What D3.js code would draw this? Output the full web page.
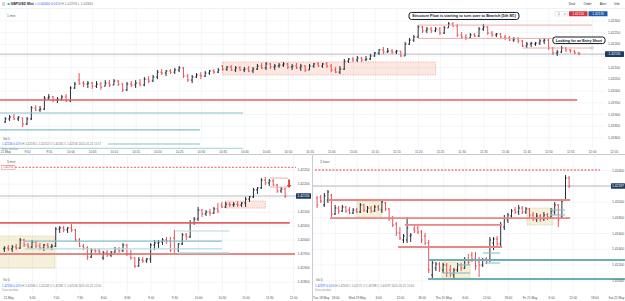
<!DOCTYPE html>
<html><head><meta charset="utf-8">
<script src="https://cdn.jsdelivr.net/npm/d3@7/dist/d3.min.js"></script>
<style>
html,body{margin:0;padding:0;background:#fff;}
svg{display:block;font-family:"Liberation Sans",Arial,sans-serif;}
</style></head><body>
<svg id="chart" width="625" height="301"></svg>
<script>
// ================= DATA =================
// --- Top pane: GBP/USD 1-minute bars, 21 May 2021, first bar 09:45 (minutes after midnight)
const topFirstMinute = 585;
const topOpen = [1.41866,1.41879,1.41887,1.41879,1.41883,1.41857,1.41879,1.41926,1.41917,1.41921,
1.41968,1.41973,1.41960,1.41964,1.41973,1.41956,1.42011,1.42045,1.42032,1.42028,
1.42032,1.42019,1.42028,1.42019,1.42032,1.42024,1.42041,1.42028,1.42003,1.42028,
1.42024,1.42032,1.42024,1.42049,1.42041,1.42058,1.42079,1.42075,1.42084,1.42079,
1.42088,1.42097,1.42062,1.42045,1.42058,1.42067,1.42062,1.42075,1.42084,1.42079,
1.42105,1.42092,1.42101,1.42088,1.42097,1.42088,1.42092,1.42084,1.42092,1.42105,
1.42097,1.42114,1.42101,1.42105,1.42109,1.42114,1.42101,1.42105,1.42097,1.42105,
1.42088,1.42105,1.42114,1.42105,1.42114,1.42105,1.42088,1.42079,1.42092,1.42126,
1.42135,1.42131,1.42139,1.42131,1.42135,1.42148,1.42161,1.42174,1.42165,1.42169,
1.42165,1.42169,1.42148,1.42199,1.42216,1.42229,1.42272,1.42255,1.42263,1.42255,
1.42263,1.42246,1.42268,1.42285,1.42276,1.42238,1.42229,1.42225,1.42238,1.42233,
1.42263,1.42272,1.42246,1.42238,1.42242,1.42229,1.42225,1.42216,1.42221,1.42212,
1.42191,1.42199,1.42199,1.42203,1.42212,1.42216,1.42182,1.42161,1.42165,1.42182,
1.42174,1.42169,1.42161];
const topHigh = [1.41887,1.41896,1.41900,1.41891,1.41883,1.41887,1.41934,1.41938,1.41934,1.41977,
1.41985,1.41977,1.41973,1.41981,1.41985,1.42019,1.42037,1.42075,1.42041,1.42041,
1.42037,1.42041,1.42037,1.42045,1.42045,1.42049,1.42045,1.42032,1.42037,1.42041,
1.42045,1.42049,1.42058,1.42062,1.42067,1.42088,1.42092,1.42088,1.42092,1.42097,
1.42105,1.42101,1.42071,1.42067,1.42075,1.42079,1.42084,1.42088,1.42092,1.42097,
1.42109,1.42105,1.42109,1.42105,1.42105,1.42101,1.42105,1.42101,1.42114,1.42118,
1.42122,1.42118,1.42114,1.42118,1.42122,1.42118,1.42114,1.42118,1.42114,1.42109,
1.42114,1.42118,1.42122,1.42118,1.42122,1.42114,1.42101,1.42105,1.42135,1.42139,
1.42144,1.42148,1.42144,1.42148,1.42156,1.42165,1.42178,1.42186,1.42182,1.42178,
1.42174,1.42169,1.42208,1.42225,1.42238,1.42280,1.42276,1.42272,1.42272,1.42272,
1.42272,1.42276,1.42293,1.42293,1.42285,1.42250,1.42242,1.42246,1.42246,1.42272,
1.42285,1.42276,1.42255,1.42246,1.42246,1.42238,1.42233,1.42229,1.42229,1.42216,
1.42208,1.42208,1.42208,1.42221,1.42225,1.42221,1.42186,1.42174,1.42191,1.42186,
1.42178,1.42174,1.42165];
const topLow = [1.41862,1.41870,1.41874,1.41870,1.41844,1.41853,1.41874,1.41913,1.41909,1.41917,
1.41960,1.41951,1.41947,1.41956,1.41951,1.41951,1.42007,1.42024,1.42015,1.42011,
1.42007,1.42011,1.42003,1.42019,1.42015,1.42024,1.42019,1.41994,1.41998,1.42015,
1.42011,1.42019,1.42019,1.42032,1.42037,1.42049,1.42067,1.42062,1.42071,1.42071,
1.42079,1.42054,1.42037,1.42032,1.42054,1.42049,1.42058,1.42067,1.42071,1.42075,
1.42084,1.42084,1.42084,1.42079,1.42084,1.42079,1.42079,1.42075,1.42088,1.42092,
1.42088,1.42092,1.42088,1.42097,1.42101,1.42092,1.42088,1.42092,1.42084,1.42079,
1.42088,1.42097,1.42101,1.42097,1.42097,1.42079,1.42075,1.42071,1.42088,1.42118,
1.42122,1.42122,1.42122,1.42126,1.42131,1.42144,1.42152,1.42156,1.42161,1.42156,
1.42156,1.42144,1.42148,1.42195,1.42208,1.42225,1.42246,1.42246,1.42246,1.42250,
1.42238,1.42242,1.42268,1.42272,1.42229,1.42221,1.42216,1.42225,1.42229,1.42229,
1.42255,1.42238,1.42229,1.42229,1.42225,1.42216,1.42212,1.42208,1.42203,1.42186,
1.42182,1.42186,1.42191,1.42195,1.42199,1.42174,1.42152,1.42148,1.42161,1.42165,
1.42161,1.42156,1.42152];
const topClose = [1.41879,1.41887,1.41879,1.41887,1.41857,1.41879,1.41926,1.41917,1.41921,1.41968,
1.41973,1.41960,1.41964,1.41973,1.41956,1.42011,1.42028,1.42032,1.42028,1.42032,
1.42019,1.42028,1.42015,1.42032,1.42024,1.42041,1.42028,1.42003,1.42028,1.42024,
1.42032,1.42024,1.42049,1.42041,1.42058,1.42079,1.42075,1.42084,1.42079,1.42088,
1.42097,1.42062,1.42045,1.42058,1.42067,1.42062,1.42075,1.42084,1.42079,1.42088,
1.42092,1.42101,1.42088,1.42097,1.42088,1.42092,1.42084,1.42092,1.42105,1.42097,
1.42114,1.42101,1.42105,1.42109,1.42114,1.42101,1.42105,1.42097,1.42105,1.42088,
1.42105,1.42114,1.42105,1.42114,1.42105,1.42088,1.42079,1.42092,1.42126,1.42135,
1.42131,1.42139,1.42131,1.42135,1.42148,1.42161,1.42174,1.42165,1.42169,1.42165,
1.42169,1.42148,1.42199,1.42216,1.42229,1.42272,1.42255,1.42263,1.42255,1.42263,
1.42246,1.42268,1.42285,1.42276,1.42238,1.42229,1.42225,1.42238,1.42233,1.42263,
1.42272,1.42246,1.42238,1.42242,1.42229,1.42225,1.42216,1.42221,1.42212,1.42191,
1.42199,1.42203,1.42203,1.42212,1.42216,1.42182,1.42161,1.42165,1.42182,1.42174,
1.42169,1.42161,1.42156];
const topPriceTicks = [1.4180,1.4185,1.4190,1.4195,1.4200,1.4205,1.4210,1.4215,1.4220,1.4225,1.4230];
const topPriceLabels = ["1.41800","1.41850","1.41900","1.41950","1.42000","1.42050","1.42100","1.42150","1.42200","1.42250","1.42300"];
const topTimeTicks = [585,590,595,600,605,610,615,620,625,630,635,640,645,650,655,660,665,670,675,680,685,690,695,700,705,710,715,720,725];
const topTimeLabels = ["21 May","9:50","9:55","10:00","10:05","10:10","10:15","10:20","10:25","10:30","10:35","10:40","10:45","10:50","10:55","11:00","11:05","11:10","11:15","11:20","11:25","11:30","11:35","11:40","11:45","11:50","11:55","12:00","12:05"];
const topZones = [{from:635,to:684,hi:1.42122,lo:1.42067,kind:"pink"}];
const topLevels = [
  {price:1.42280,from:680,to:720,kind:"lightred"},
  {price:1.42223,from:680,to:712,kind:"lightred"},
  {price:1.42182,from:704,to:720,kind:"lightred",endDot:true},
  {price:1.41960,from:583,to:716.6,kind:"red"},
  {price:1.41904,from:583,to:639.7,kind:"teal"},
  {price:1.41832,from:583,to:629.8,kind:"teal"},
  {price:1.41772,from:608.6,to:629.8,kind:"teal"},
  {price:1.41753,from:583,to:639.7,kind:"paleteal"}];
const topNotes = [
  {text:"Structure Flow is starting to turn over to Bearish (5th M1)",from:677.9,to:703.2,hi:1.42334,lo:1.42304},
  {text:"Looking for an Entry Short",from:711,to:723,hi:1.42229,lo:1.42201}];

// --- Bottom-left pane: 5-minute bars, first bar 05:55
const blFirstMinute = 355;
const blOpen = [1.41967,1.41970,1.41967,1.41974,1.41970,1.41999,1.41981,1.41974,1.41992,1.41977,
1.41970,1.41981,1.41974,1.41977,1.42038,1.42042,1.42035,1.42042,1.42035,1.41999,
1.41977,1.41970,1.41938,1.41963,1.41960,1.41935,1.41953,1.41945,1.41956,1.41967,
1.41960,1.41981,1.41949,1.41935,1.41906,1.41928,1.41924,1.41931,1.41981,1.41988,
1.41992,1.41999,1.41995,1.42006,1.41967,1.41985,1.42017,1.42010,1.42060,1.42074,
1.42106,1.42092,1.42099,1.42095,1.42110,1.42124,1.42117,1.42127,1.42124,1.42127,
1.42124,1.42131,1.42145,1.42153,1.42178,1.42185,1.42213,1.42203,1.42210,1.42195,
1.42174,1.42181];
const blHigh = [1.41977,1.41981,1.41981,1.41985,1.42006,1.42003,1.41988,1.41999,1.41995,1.41988,
1.41985,1.41988,1.41985,1.42045,1.42049,1.42049,1.42045,1.42056,1.42038,1.42006,
1.41985,1.41977,1.41970,1.41970,1.41970,1.41960,1.41963,1.41960,1.41974,1.41974,
1.41988,1.41985,1.41963,1.41938,1.41938,1.41938,1.41935,1.41988,1.41999,1.41999,
1.42006,1.42010,1.42010,1.42035,1.41988,1.42024,1.42024,1.42070,1.42081,1.42117,
1.42110,1.42106,1.42110,1.42117,1.42131,1.42135,1.42135,1.42135,1.42135,1.42138,
1.42135,1.42153,1.42156,1.42185,1.42188,1.42220,1.42224,1.42217,1.42217,1.42199,
1.42188,1.42185];
const blLow = [1.41956,1.41960,1.41956,1.41963,1.41967,1.41974,1.41967,1.41967,1.41970,1.41963,
1.41960,1.41967,1.41963,1.41974,1.42024,1.42027,1.42024,1.42027,1.41992,1.41974,
1.41963,1.41928,1.41935,1.41953,1.41949,1.41928,1.41938,1.41938,1.41953,1.41953,
1.41956,1.41942,1.41928,1.41899,1.41903,1.41917,1.41917,1.41917,1.41963,1.41970,
1.41981,1.41985,1.41956,1.41953,1.41956,1.41981,1.41999,1.42006,1.42053,1.42067,
1.42081,1.42085,1.42085,1.42092,1.42095,1.42113,1.42113,1.42117,1.42117,1.42117,
1.42117,1.42117,1.42135,1.42149,1.42163,1.42181,1.42195,1.42192,1.42192,1.42167,
1.42167,1.42149];
const blClose = [1.41970,1.41967,1.41974,1.41970,1.41999,1.41981,1.41974,1.41992,1.41977,1.41970,
1.41981,1.41974,1.41977,1.42038,1.42042,1.42035,1.42042,1.42035,1.41999,1.41977,
1.41970,1.41938,1.41963,1.41960,1.41956,1.41953,1.41945,1.41956,1.41967,1.41960,
1.41981,1.41949,1.41935,1.41906,1.41928,1.41924,1.41931,1.41981,1.41988,1.41992,
1.41999,1.41995,1.41963,1.41967,1.41985,1.42017,1.42010,1.42060,1.42074,1.42106,
1.42092,1.42099,1.42095,1.42110,1.42102,1.42117,1.42127,1.42124,1.42127,1.42124,
1.42131,1.42145,1.42153,1.42178,1.42185,1.42213,1.42203,1.42210,1.42195,1.42174,
1.42181,1.42156];
const blPriceTicks = [1.4185,1.4190,1.4195,1.4200,1.4205,1.4210,1.4215,1.4220,1.4225];
const blPriceLabels = ["1.41850","1.41900","1.41950","1.42000","1.42050","1.42100","1.42150","1.42200","1.42250"];
const blTimeTicks = [360,390,420,450,480,510,540,570,600,630,660,690,720];
const blTimeLabels = ["21 May","6:30","7:00","7:30","8:00","8:30","9:00","9:30","10:00","10:30","11:00","11:30","12:00"];
const blZones = [
  {from:349,to:419,hi:1.42013,lo:1.41899,kind:"beige"},
  {from:634,to:685,hi:1.42138,lo:1.42113,kind:"pink"}];
const blLevels = [
  {price:1.42258,from:368.5,to:725,kind:"dash"},
  {price:1.42060,from:349,to:716,kind:"red"},
  {price:1.41949,from:349,to:722.5,kind:"red"},
  {price:1.41995,from:381,to:630,kind:"teal"},
  {price:1.41967,from:381,to:630,kind:"paleteal"},
  {price:1.42031,from:571,to:640,kind:"paleteal"},
  {price:1.41953,from:575,to:640,kind:"paleteal"},
  {price:1.42220,from:691,to:714,kind:"lightred"},
  {price:1.42188,from:691,to:714,kind:"lightred"}];
const blArrow = {time:715,from:1.42215,to:1.42185};

// --- Bottom-right pane: hourly bars, hours relative to Fri 21 May 00:00, first bar Tue 18 May 13:00
const brFirstHour = -59;
const brOpen = [1.42044,1.42057,1.41956,1.42019,1.42083,1.41841,1.41917,1.41879,1.41930,1.41892,
1.41854,1.41892,1.41867,1.41956,1.41879,1.41917,1.41879,1.41930,1.41892,1.41981,
1.41905,1.41778,1.41714,1.41600,1.41511,1.41511,1.41562,1.41651,1.41663,1.41613,
1.41562,1.41473,1.41067,1.41155,1.41206,1.41130,1.41194,1.41130,1.41067,1.41130,
1.41194,1.41155,1.41257,1.41321,1.41282,1.41232,1.41194,1.41270,1.41257,1.41473,
1.41524,1.41460,1.41676,1.41765,1.41816,1.41892,1.41867,1.41917,1.41867,1.41905,
1.41829,1.41778,1.41816,1.41778,1.41829,1.41803,1.41867,1.41956,1.41803,1.42019,
1.42298];
const brHigh = [1.42070,1.42083,1.42108,1.42146,1.42095,1.41956,1.41943,1.41956,1.41943,1.41930,
1.41917,1.41917,1.41981,1.41968,1.41943,1.41943,1.41956,1.41956,1.42019,1.41994,
1.41917,1.41816,1.41740,1.41676,1.41587,1.41803,1.41600,1.41702,1.41702,1.41638,
1.41600,1.41511,1.41257,1.41232,1.41232,1.41219,1.41219,1.41194,1.41155,1.41219,
1.41219,1.41295,1.41333,1.41359,1.41359,1.41295,1.41282,1.41295,1.41549,1.41549,
1.41562,1.41740,1.41829,1.41854,1.41905,1.41930,1.41956,1.41943,1.41930,1.41917,
1.41867,1.41854,1.41841,1.41867,1.41854,1.41917,1.41994,1.41968,1.42032,1.42337,
1.42324];
const brLow = [1.41917,1.41981,1.41930,1.41981,1.41803,1.41829,1.41841,1.41867,1.41854,1.41841,
1.41841,1.41854,1.41854,1.41867,1.41854,1.41854,1.41867,1.41879,1.41854,1.41879,
1.41752,1.41676,1.41562,1.41511,1.41473,1.41473,1.41486,1.41600,1.41587,1.41473,
1.41448,1.41092,1.41028,1.41117,1.41105,1.41092,1.41041,1.41041,1.41028,1.41105,
1.41117,1.41143,1.41194,1.41232,1.41130,1.41041,1.41168,1.41206,1.41232,1.41384,
1.41409,1.41435,1.41638,1.41727,1.41790,1.41841,1.41829,1.41841,1.41841,1.41790,
1.41752,1.41740,1.41740,1.41752,1.41765,1.41790,1.41829,1.41676,1.41790,1.42006,
1.42171];
const brClose = [1.41956,1.42006,1.42070,1.42121,1.41841,1.41917,1.41879,1.41930,1.41879,1.41854,
1.41892,1.41867,1.41956,1.41892,1.41917,1.41879,1.41930,1.41905,1.41994,1.41905,
1.41778,1.41702,1.41600,1.41536,1.41562,1.41663,1.41575,1.41625,1.41613,1.41511,
1.41473,1.41130,1.41219,1.41206,1.41155,1.41194,1.41092,1.41079,1.41130,1.41194,
1.41155,1.41257,1.41232,1.41270,1.41181,1.41194,1.41257,1.41232,1.41511,1.41524,
1.41460,1.41702,1.41790,1.41829,1.41879,1.41867,1.41917,1.41867,1.41905,1.41829,
1.41778,1.41816,1.41778,1.41829,1.41803,1.41879,1.41956,1.41765,1.42006,1.42298,
1.42197];
const brPriceTicks = [1.4100,1.4120,1.4140,1.4160,1.4180,1.4200,1.4220,1.4240];
const brPriceLabels = ["1.41000","1.41200","1.41400","1.41600","1.41800","1.42000","1.42200","1.42400"];
const brTimeTicks = [-58,-54,-48,-42,-36,-30,-24,-18,-12,-6,0,6,12,18,24];
const brTimeLabels = ["Tue 18 May","18:00","Wed 19 May","6:00","12:00","18:00","Thu 20 May","6:00","12:00","18:00","Fri 21 May","6:00","12:00","18:00","Sat 22 May"];
const brZones = [
  {from:-47.9,to:-41,hi:1.42006,lo:1.41803,kind:"beige"},
  {from:-24.3,to:-16.5,hi:1.41232,lo:1.41028,kind:"beige"},
  {from:-0.7,to:6.5,hi:1.41917,lo:1.41702,kind:"beige"}];
const brLevels = [
  {price:1.42400,from:-59.6,to:19.6,kind:"dash"},
  {price:1.42019,from:-56,to:11.3,kind:"red2"},
  {price:1.41790,from:-55.4,to:11.3,kind:"red2"},
  {price:1.41702,from:-34.6,to:-7.6,kind:"red2"},
  {price:1.41422,from:-36.5,to:-7.6,kind:"red2"},
  {price:1.41257,from:-28.2,to:26.5,kind:"teal2"},
  {price:1.41016,from:-28.2,to:26.5,kind:"teal2"},
  {price:1.41194,from:-20.1,to:-16.5,kind:"teal"},
  {price:1.41092,from:-24,to:-16.5,kind:"teal"},
  {price:1.41346,from:-12.9,to:-8.2,kind:"teal"},
  {price:1.41219,from:-12.4,to:-8.2,kind:"teal"},
  {price:1.41892,from:5.7,to:9.9,kind:"teal"},
  {price:1.41829,from:5.7,to:9.9,kind:"teal"}];

// ================= STYLE =================
const UP = "#131722", DOWN = "#e2434b";
const LEVEL_STYLE = {
  red:{c:"#e06262",w:1.6}, red2:{c:"#e98686",w:1.8}, lightred:{c:"#f0a3a3",w:0.9},
  teal:{c:"#86c0c6",w:1.1}, teal2:{c:"#6eaeb4",w:1.8}, paleteal:{c:"#b3dadf",w:1.2},
  dash:{c:"#ee8080",w:1.3,dash:"2,1.5"}};
const ZONE_STYLE = {
  pink:{fill:"rgba(246,150,120,0.22)",stroke:"#f2a590"},
  beige:{fill:"rgba(222,208,140,0.32)",stroke:"#d9cd92"}};
const FONT = "'Liberation Sans',Arial,sans-serif";
const svg = d3.select("#chart");
svg.append("rect").attr("width",625).attr("height",301).attr("fill","#fff");

function drawPane(p){
  const g = svg.append("g");
  const cid = "clip-"+p.id;
  svg.append("clipPath").attr("id",cid).append("rect")
    .attr("x",p.left).attr("y",p.top).attr("width",p.clipRight-p.left).attr("height",p.bottom-p.top);
  // grid
  const gx = g.append("g").attr("transform",`translate(0,${p.bottom})`)
    .call(d3.axisBottom(p.x).tickValues(p.timeTicks.filter(v=>p.x(v)>p.left+2&&p.x(v)<p.right)).tickSize(-(p.bottom-p.top)).tickFormat(""));
  gx.select(".domain").remove();
  gx.selectAll("line").attr("stroke","#eef0f5").attr("stroke-width",0.7);
  const gy = g.append("g").attr("transform",`translate(${p.right},0)`)
    .call(d3.axisLeft(p.y).tickValues(p.priceTicks).tickSize(p.right-p.left).tickFormat(""));
  gy.select(".domain").remove();
  gy.selectAll("line").attr("stroke","#eef0f5").attr("stroke-width",0.7);

  const body = g.append("g").attr("clip-path",`url(#${cid})`);
  // zones
  body.selectAll(null).data(p.zones).join("rect")
    .attr("x",d=>p.x(d.from)).attr("width",d=>p.x(d.to)-p.x(d.from))
    .attr("y",d=>p.y(d.hi)).attr("height",d=>p.y(d.lo)-p.y(d.hi))
    .attr("fill",d=>ZONE_STYLE[d.kind].fill).attr("stroke",d=>ZONE_STYLE[d.kind].stroke)
    .attr("stroke-width",0.7).attr("stroke-dasharray","1.5,1");
  // current price line
  const last = p.C[p.C.length-1];
  body.append("line").attr("x1",p.left).attr("x2",p.boxX).attr("y1",p.y(last)).attr("y2",p.y(last))
    .attr("stroke","#a6a9b2").attr("stroke-width",0.8);
  // bars
  const bars = p.O.map((o,i)=>({t:p.t0+i*p.step,o,h:p.H[i],l:p.L[i],c:p.C[i]}));
  body.selectAll(null).data(bars).join("path")
    .attr("d",d=>{const X=p.x(d.t);return `M${X},${p.y(d.h)}V${p.y(d.l)}M${X-p.tick},${p.y(d.o)}H${X}M${X},${p.y(d.c)}H${X+p.tick}`;})
    .attr("fill","none").attr("stroke",d=>d.c>=d.o?UP:DOWN).attr("stroke-width",0.9);
  // levels
  body.selectAll(null).data(p.levels).join("line")
    .attr("x1",d=>p.x(d.from)).attr("x2",d=>p.x(d.to)).attr("y1",d=>p.y(d.price)).attr("y2",d=>p.y(d.price))
    .attr("stroke",d=>LEVEL_STYLE[d.kind].c).attr("stroke-width",d=>LEVEL_STYLE[d.kind].w)
    .attr("stroke-dasharray",d=>LEVEL_STYLE[d.kind].dash||null);
  body.selectAll(null).data(p.levels.filter(d=>d.endDot)).join("circle")
    .attr("cx",d=>p.x(d.to)).attr("cy",d=>p.y(d.price)).attr("r",1.2)
    .attr("fill","#fff").attr("stroke","#9a9da6").attr("stroke-width",0.6);
  // time labels
  const tx = g.append("g").attr("transform",`translate(0,${p.timeY})`)
    .call(d3.axisBottom(p.x).tickValues(p.timeTicks).tickFormat((d,i)=>p.timeLabels[i]).tickSize(0).tickPadding(0));
  tx.select(".domain").remove();
  tx.selectAll("text").attr("dy","0.35em").attr("font-size",3.1).attr("fill","#50535e").attr("font-family",FONT);
  // price labels (skip the one hidden under the current-price tag)
  const visTicks = p.priceTicks.map((v,i)=>({v,l:p.priceLabels[i]})).filter(d=>Math.abs(p.y(d.v)-p.y(last))>5);
  const ty = g.append("g").attr("transform",`translate(${p.axisX},0)`)
    .call(d3.axisRight(p.y).tickValues(visTicks.map(d=>d.v)).tickFormat((d,i)=>visTicks[i].l).tickSize(0).tickPadding(0));
  ty.select(".domain").remove();
  ty.selectAll("text").attr("text-anchor","middle").attr("font-size",3.4).attr("fill","#50535e").attr("font-family",FONT);
  // current price box
  g.append("rect").attr("x",p.boxX).attr("width",p.boxW).attr("y",p.y(last)-2.8).attr("height",5.6)
    .attr("fill","#1f3b63").attr("rx",0.6);
  g.append("text").attr("x",p.boxX+p.boxW/2).attr("y",p.y(last)).attr("dy","0.35em")
    .attr("text-anchor","middle").attr("font-size",3.3).attr("fill","#fff").attr("font-family",FONT)
    .text(last.toFixed(5));
  // pane title + info rows
  const tg = g.append("g").attr("font-family",FONT);
  tg.append("text").attr("x",p.left+7).attr("y",p.top+8).attr("font-size",3.4).attr("fill","#555").text(p.title);
  tg.append("text").attr("x",p.left+3).attr("y",p.infoY).attr("font-size",3).attr("fill","#666").text("Vol  0");
  const info = tg.append("text").attr("x",p.left+2).attr("y",p.infoY+5.5).attr("font-size",2.9);
  info.append("tspan").attr("fill","#2962ff").text(last.toFixed(5)+"  0.01%  ");
  info.append("tspan").attr("fill","#777").text("H "+p.H[p.H.length-1].toFixed(5)+"  L "+p.L[p.L.length-1].toFixed(5)+"  O "+p.O[p.O.length-1].toFixed(5)+"  C "+last.toFixed(5)+"  "+p.stamp);
  tg.append("text").attr("x",p.left+2).attr("y",p.infoY+10).attr("font-size",2.8).attr("fill","#9a9da6").text("Data window");
  return g;
}

// ---------- TOP PANE ----------
const topX = d3.scaleLinear().domain([590,720]).range([27,592]);
const topY = d3.scaleLinear().domain([1.4180,1.4230]).range([137.4,20.4]);
drawPane({id:"top",x:topX,y:topY,left:0,right:605,clipRight:605,top:9,bottom:149,
  t0:topFirstMinute,step:1,O:topOpen,H:topHigh,L:topLow,C:topClose,tick:1.3,
  priceTicks:topPriceTicks,priceLabels:topPriceLabels,timeTicks:topTimeTicks,timeLabels:topTimeLabels,
  zones:topZones,levels:topLevels,timeY:151.5,axisX:614,boxX:605,boxW:19,
  title:"1 min",infoY:139.5,stamp:"2021-05-21 11:57"});

// annotations (top)
const notes = svg.append("g").attr("font-family",FONT);
topNotes.forEach(n=>{
  const x0=topX(n.from),x1=topX(n.to),y0=topY(n.hi),y1=topY(n.lo);
  notes.append("rect").attr("x",x0).attr("y",y0).attr("width",x1-x0).attr("height",y1-y0).attr("rx",2.5)
    .attr("fill","#fff").attr("stroke","#131722").attr("stroke-width",1);
  notes.append("text").attr("x",(x0+x1)/2).attr("y",(y0+y1)/2).attr("dy","0.35em").attr("text-anchor","middle")
    .attr("font-size",3.6).attr("font-weight","bold").attr("fill","#131722")
    .attr("textLength",(x1-x0)-6).attr("lengthAdjust","spacingAndGlyphs").text(n.text);
});

// ---------- BOTTOM-LEFT PANE ----------
const blX = d3.scaleLinear().domain([390,720]).range([32,293]);
const blY = d3.scaleLinear().domain([1.4185,1.4225]).range([281.7,169.7]);
drawPane({id:"bl",x:blX,y:blY,left:0,right:296,clipRight:296,top:155,bottom:293,
  t0:blFirstMinute,step:5,O:blOpen,H:blHigh,L:blLow,C:blClose,tick:1.3,
  priceTicks:blPriceTicks,priceLabels:blPriceLabels,timeTicks:blTimeTicks,timeLabels:blTimeLabels,
  zones:blZones,levels:blLevels,timeY:297.5,axisX:303.5,boxX:296,boxW:15,
  title:"5 min",infoY:281,stamp:"2021-05-21 11:50"});
// dashed level tag & arrow
const dl = blLevels[0];
svg.append("rect").attr("x",1.5).attr("y",blY(dl.price)-2).attr("width",13.5).attr("height",4)
  .attr("fill","#fff").attr("stroke","#ee8080").attr("stroke-width",0.5);
svg.append("text").attr("x",8.2).attr("y",blY(dl.price)).attr("dy","0.35em").attr("text-anchor","middle")
  .attr("font-size",2.8).attr("fill","#e04848").attr("font-family",FONT).text(dl.price.toFixed(5));
{
  const ax=blX(blArrow.time), ya=blY(blArrow.from), yb=blY(blArrow.to);
  svg.append("line").attr("x1",ax).attr("x2",ax).attr("y1",ya).attr("y2",yb-2.5).attr("stroke","#e53935").attr("stroke-width",1.8);
  svg.append("path").attr("d",`M${ax-2.4},${yb-3}L${ax+2.4},${yb-3}L${ax},${yb}Z`).attr("fill","#e53935");
}

// ---------- BOTTOM-RIGHT PANE ----------
const brX = d3.scaleLinear().domain([0,24]).range([529.5,615.9]);
const brY = d3.scaleLinear().domain([1.4100,1.4240]).range([280.25,170]);
drawPane({id:"br",x:brX,y:brY,left:313,right:611,clipRight:625,top:155,bottom:293,
  t0:brFirstHour,step:1,O:brOpen,H:brHigh,L:brLow,C:brClose,tick:1.2,
  priceTicks:brPriceTicks,priceLabels:brPriceLabels,timeTicks:brTimeTicks,timeLabels:brTimeLabels,
  zones:brZones,levels:brLevels,timeY:297.5,axisX:618,boxX:611,boxW:14,
  title:"1 hour",infoY:281,stamp:"2021-05-21 11:00"});

// ---------- FRAME / HEADER ----------
const fr = svg.append("g");
fr.append("line").attr("x1",0).attr("x2",625).attr("y1",154.5).attr("y2",154.5).attr("stroke","#c9ccd4").attr("stroke-width",1);
fr.append("line").attr("x1",312.5).attr("x2",312.5).attr("y1",154.5).attr("y2",301).attr("stroke","#c9ccd4").attr("stroke-width",1);
fr.append("line").attr("x1",0).attr("x2",625).attr("y1",8.5).attr("y2",8.5).attr("stroke","#e6e8ee").attr("stroke-width",0.6);
const hd = svg.append("g").attr("font-family",FONT);
[2.8,4,5.2].forEach(yy=>hd.append("line").attr("x1",2).attr("x2",5).attr("y1",yy).attr("y2",yy).attr("stroke","#777").attr("stroke-width",0.4));
hd.append("circle").attr("cx",8.5).attr("cy",4).attr("r",1.1).attr("fill","#26a69a");
const ht = hd.append("text").attr("x",10.5).attr("y",5.2).attr("font-size",3.4);
ht.append("tspan").attr("font-weight","bold").attr("fill","#131722").text("GBP/USD Mini  ");
ht.append("tspan").attr("fill","#888").text("\u25BE  ");
ht.append("tspan").attr("fill","#2962ff").text("0.00000  0.01%  ");
ht.append("tspan").attr("fill","#777").text("H 1.42293  L 1.41844");
[["Deal",572],["Order",587.5],["Alert",603],["Info",617]].forEach(([t,x])=>
  hd.append("text").attr("x",x).attr("y",5.2).attr("text-anchor","middle").attr("font-size",3.2).attr("fill","#333").text(t));
hd.append("rect").attr("x",555).attr("y",11.5).attr("width",12.5).attr("height",4.5).attr("fill","#fff").attr("stroke","#c9ccd4").attr("stroke-width",0.4);
hd.append("text").attr("x",558).attr("y",14.8).attr("font-size",3).attr("fill","#333").text("1");
hd.append("text").attr("x",564).attr("y",14.8).attr("font-size",2.6).attr("fill","#666").text("\u25BE");
hd.append("rect").attr("x",569).attr("y",11.2).attr("width",18.5).attr("height",5).attr("fill","#d8343f").attr("rx",0.5);
hd.append("text").attr("x",578.2).attr("y",13.7).attr("dy","0.35em").attr("text-anchor","middle").attr("font-size",3.2).attr("fill","#fff").text("1.42156");
hd.append("rect").attr("x",588.5).attr("y",11.2).attr("width",19).attr("height",5).attr("fill","#1e5aa8").attr("rx",0.5);
hd.append("text").attr("x",598).attr("y",13.7).attr("dy","0.35em").attr("text-anchor","middle").attr("font-size",3.2).attr("fill","#fff").text("1.42176");
</script>
</body></html>
